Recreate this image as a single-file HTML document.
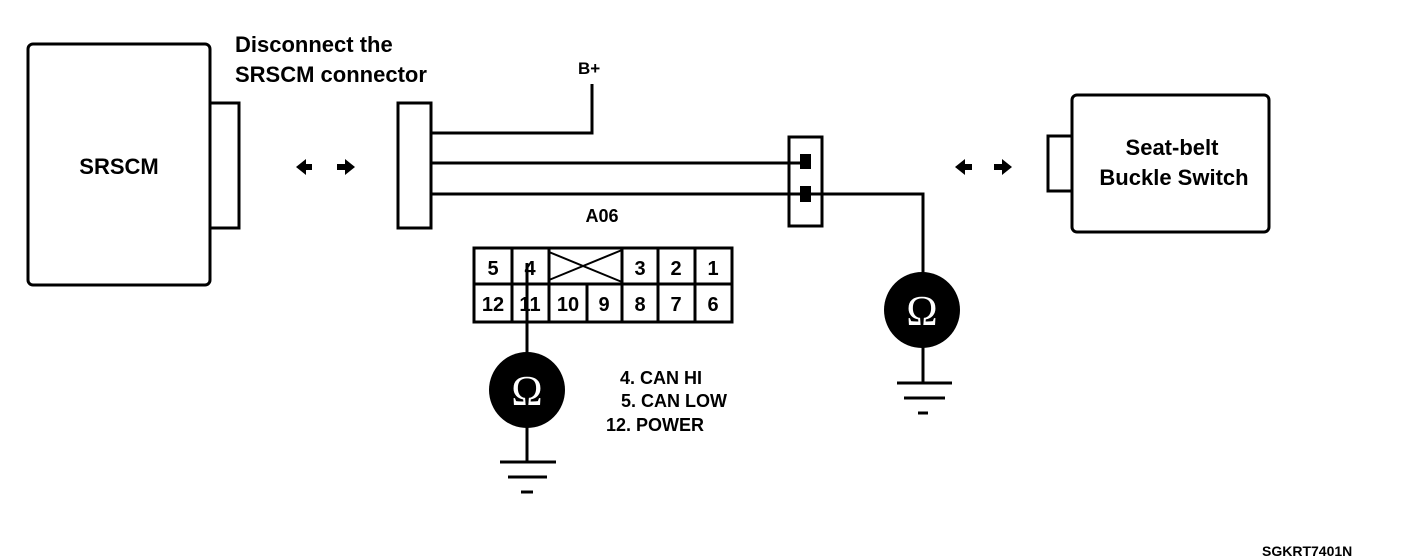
<!DOCTYPE html>
<html><head><style>
html,body{margin:0;padding:0;background:#fff;}
svg{display:block;}
text{font-family:"Liberation Sans",Arial,sans-serif;fill:#000;}
</style></head><body>
<svg width="1408" height="558" viewBox="0 0 1408 558" xmlns="http://www.w3.org/2000/svg">
<g fill="none" stroke="#000" stroke-width="3">
  <rect x="28" y="44" width="182" height="241" rx="5"/>
  <rect x="210" y="103" width="29" height="125"/>
  <rect x="398" y="103" width="33" height="125"/>
  <polyline points="431,133 592,133 592,84"/>
  <line x1="431" y1="163" x2="802" y2="163"/>
  <polyline points="431,194 923,194 923,274"/>
  <rect x="789" y="137" width="33" height="89"/>
  <rect x="1072" y="95" width="197" height="137" rx="5"/>
  <rect x="1048" y="136" width="24" height="55"/>
  <rect x="474" y="248" width="258" height="74"/>
  <line x1="474" y1="284" x2="732" y2="284"/>
  <line x1="512" y1="248" x2="512" y2="322"/>
  <line x1="549" y1="248" x2="549" y2="322"/>
  <line x1="587" y1="284" x2="587" y2="322"/>
  <line x1="622" y1="248" x2="622" y2="322"/>
  <line x1="658" y1="248" x2="658" y2="322"/>
  <line x1="695" y1="248" x2="695" y2="322"/>
  <line x1="549" y1="280" x2="622" y2="250" stroke-width="2"/>
  <line x1="549" y1="252" x2="622" y2="282" stroke-width="2"/>
  <line x1="527" y1="263" x2="527" y2="353"/>
  <line x1="527" y1="427" x2="527" y2="462"/>
  <line x1="923" y1="346" x2="923" y2="383"/>
  <line x1="500" y1="462" x2="556" y2="462"/>
  <line x1="508" y1="477" x2="547" y2="477"/>
  <line x1="521" y1="492" x2="533" y2="492"/>
  <line x1="897" y1="383" x2="952" y2="383"/>
  <line x1="904" y1="398" x2="945" y2="398"/>
  <line x1="918" y1="413" x2="928" y2="413"/>
</g>
<rect x="800" y="154" width="11" height="15" fill="#000"/>
<rect x="800" y="186" width="11" height="16" fill="#000"/>
<circle cx="527" cy="390" r="38" fill="#000"/>
<text x="527" y="405" font-size="42" text-anchor="middle" style="fill:#fff;font-family:'Liberation Serif',serif">Ω</text>
<circle cx="922" cy="310" r="38" fill="#000"/>
<text x="922" y="325" font-size="42" text-anchor="middle" style="fill:#fff;font-family:'Liberation Serif',serif">Ω</text>
<g fill="#000">
  <polygon points="296,167 306,159 306,164 312,164 312,170 306,170 306,175"/>
  <polygon points="355,167 345,159 345,164 337,164 337,170 345,170 345,175"/>
  <polygon points="955,167 965,159 965,164 972,164 972,170 965,170 965,175"/>
  <polygon points="1012,167 1002,159 1002,164 994,164 994,170 1002,170 1002,175"/>
</g>
<text x="235" y="52" font-size="22" font-weight="bold">Disconnect the</text>
<text x="235" y="82" font-size="22" font-weight="bold">SRSCM connector</text>
<text x="578" y="74" font-size="17" font-weight="bold">B+</text>
<text x="119" y="174" font-size="22" font-weight="bold" text-anchor="middle">SRSCM</text>
<text x="1172" y="155" font-size="22" font-weight="bold" text-anchor="middle">Seat-belt</text>
<text x="1174" y="185" font-size="22" font-weight="bold" text-anchor="middle">Buckle Switch</text>
<text x="602" y="222" font-size="18" font-weight="bold" text-anchor="middle">A06</text>
<g font-size="20" font-weight="bold" text-anchor="middle">
  <text x="493" y="275">5</text><text x="530" y="275">4</text>
  <text x="640" y="275">3</text><text x="676" y="275">2</text><text x="713" y="275">1</text>
  <text x="493" y="311">12</text><text x="530" y="311">11</text><text x="568" y="311">10</text>
  <text x="604" y="311">9</text><text x="640" y="311">8</text><text x="676" y="311">7</text><text x="713" y="311">6</text>
</g>
<g font-size="18" font-weight="bold">
  <text x="620" y="384">4. CAN HI</text>
  <text x="621" y="407">5. CAN LOW</text>
  <text x="606" y="431">12. POWER</text>
</g>
<text x="1262" y="556" font-size="14" font-weight="bold">SGKRT7401N</text>
</svg>
</body></html>
